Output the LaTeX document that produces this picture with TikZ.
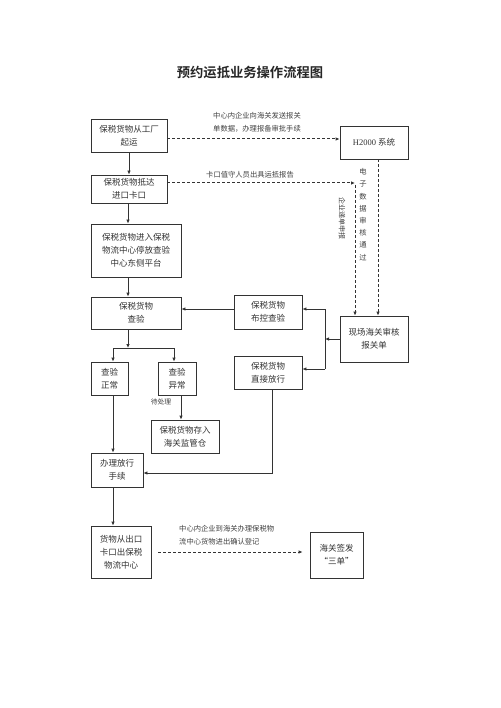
\documentclass[tikz,border=0pt]{standalone}
\usepackage{fontspec}
\setmainfont{Noto Sans CJK SC}[BoldFont={Noto Sans CJK SC Bold}]
\newfontfamily\latinserif{Liberation Serif}
\usetikzlibrary{arrows.meta}
\begin{document}
\begin{tikzpicture}[x=1pt,y=-1pt,
  box/.style={draw=black!80,line width=0.8pt,inner sep=0pt,align=center,
    font=\fontsize{8.5}{13}\selectfont,text=black!80},
  lbl/.style={inner sep=0pt,align=center,font=\fontsize{7.3}{13}\selectfont,text=black!75},
  arr/.style={draw=black!80,line width=0.8pt,-{Latex[length=4pt,width=3.5pt]}},
  ln/.style={draw=black!80,line width=0.8pt},
  darr/.style={draw=black!80,line width=1pt,dash pattern=on 3pt off 2pt,-{Latex[length=4pt,width=3.5pt]}}
]
\useasboundingbox (0,0) rectangle (500,708);
\fill[white] (0,0) rectangle (500,708);

\node[font=\bfseries\fontsize{13.3}{16}\selectfont,text=black!85] (title) at (250,73) {预约运抵业务操作流程图};

\node[box,minimum width=76pt,minimum height=33pt] (b1) at (129,135.5) {保税货物从工厂\\起运};
\node[box,minimum width=68pt,minimum height=33pt] (h2k) at (374,142.5) {{\latinserif H2000} 系统};
\node[box,minimum width=76pt,minimum height=28pt] (b2) at (129,189) {保税货物抵达\\进口卡口};
\node[box,minimum width=90pt,minimum height=53pt] (b3) at (136,250.5) {保税货物进入保税\\物流中心停放查验\\中心东侧平台};
\node[box,minimum width=90pt,minimum height=32pt] (b4) at (136,313) {保税货物\\查验};
\node[box,minimum width=68pt,minimum height=34pt] (bk) at (268,312) {保税货物\\布控查验};
\node[box,minimum width=68pt,minimum height=46pt] (xc) at (374,339) {现场海关审核\\报关单};
\node[box,minimum width=37pt,minimum height=33pt] (zc) at (109.5,378.5) {查验\\正常};
\node[box,minimum width=38pt,minimum height=33pt] (yc) at (177,378.5) {查验\\异常};
\node[box,minimum width=68pt,minimum height=33pt] (zj) at (268,372.5) {保税货物\\直接放行};
\node[box,minimum width=68pt,minimum height=33pt] (cr) at (185,436.5) {保税货物存入\\海关监管仓};
\node[box,minimum width=52pt,minimum height=34pt] (bl) at (117,470) {办理放行\\手续};
\node[box,minimum width=60pt,minimum height=52pt] (hw) at (121,552) {货物从出口\\卡口出保税\\物流中心};
\node[box,minimum width=53pt,minimum height=46pt] (qf) at (336.5,555) {海关签发\\“三单”};

% labels
\node[lbl] (l1) at (257,122.5) {中心内企业向海关发送报关\\单数据，办理报备审批手续};
\node[lbl] (l2) at (250,175) {卡口值守人员出具运抵报告};
\node[lbl,font=\fontsize{7.3}{12.2}\selectfont] (l3) at (363,214.5) {电\\子\\数\\据\\审\\核\\通\\过};
\node[lbl,rotate=-90,font=\fontsize{7}{8}\selectfont] (l4) at (342,218.5) {企业递单申报};
\node[lbl,anchor=west,align=left] (l5) at (179,535) {中心内企业到海关办理保税物\\流中心货物进出确认登记};
\node[lbl,font=\fontsize{6.8}{8}\selectfont] (l6) at (161,402) {待处理};

% coordinates
\coordinate (kp) at (355,183);
\coordinate (split) at (128,348);
\coordinate (sl) at (113,348);
\coordinate (sr) at (174,348);
\coordinate (j) at (325,339);
\coordinate (jt) at (325,309);
\coordinate (jb) at (325,369);

% solid connectors
\draw[arr] (b1.south) -- (b2.north);
\draw[arr] ([xshift=-1pt]b2.south) -- ([xshift=-8pt]b3.north);
\draw[arr] ([xshift=-8pt]b3.south) -- ([xshift=-8pt]b4.north);
\draw[arr] ([xshift=-8pt]b4.south) -- (split);
\draw[ln] (sl) -- (sr);
\draw[arr] (sl) -- (sl |- zc.north);
\draw[arr] (sr) -- (sr |- yc.north);
\draw[arr] ([xshift=4pt]yc.south) -- ([xshift=4pt]yc.south |- cr.north);
\draw[arr] ([xshift=3.5pt]zc.south) -- ([xshift=3.5pt]zc.south |- bl.north);
\draw[arr] ([yshift=3pt]bk.west) -- ([yshift=3pt]bk.west -| b4.east);
\draw[arr] (xc.west) -- (j);
\draw[ln] (jt) -- (jb);
\draw[arr] (jt) -- (jt -| bk.east);
\draw[arr] (jb) -- (jb -| zj.east);
\draw[arr] ([xshift=4pt]zj.south) |- ([yshift=-3pt]bl.east);
\draw[arr] ([xshift=-4pt]bl.south) -- ([xshift=-4pt]bl.south |- hw.north);

% dashed connectors
\draw[darr] ([yshift=-3.5pt]b1.east) -- ([yshift=3.5pt]h2k.west);
\draw[darr] (b2.east |- kp) -- (kp);
\draw[darr] ([yshift=-2pt]kp) -- (kp |- xc.north);
\draw[darr] ([xshift=4pt]h2k.south) -- ([xshift=4pt]xc.north);
\draw[darr] ([xshift=7pt]hw.east) -- ([xshift=-7pt]qf.west |- hw.east);
\end{tikzpicture}
\end{document}
